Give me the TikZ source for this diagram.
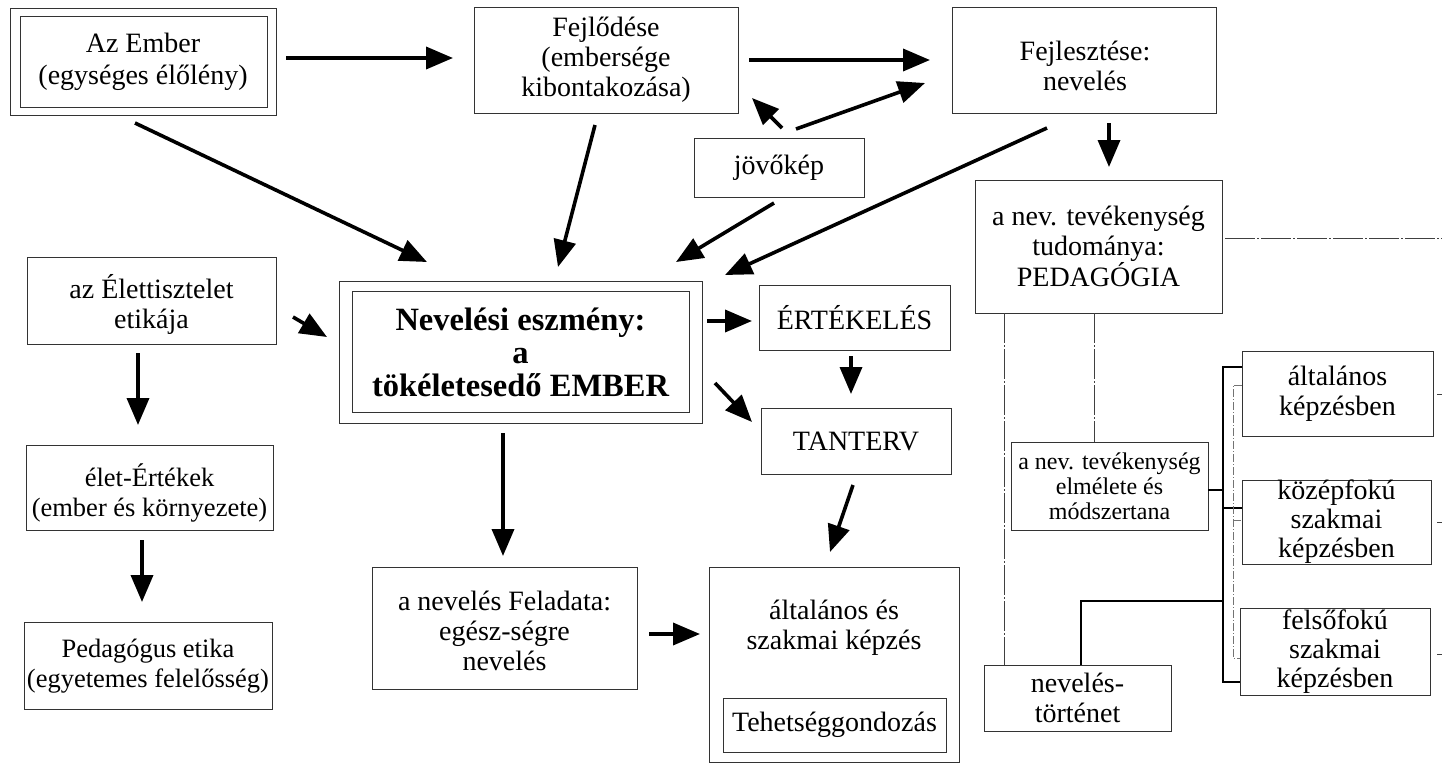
\documentclass[tikz,border=0pt]{standalone}
\usepackage{fontspec}
\setmainfont{Liberation Serif}
\usetikzlibrary{arrows.meta,calc}
\begin{document}
\begin{tikzpicture}[x=1pt,y=-1pt,
  box/.style={draw=black!80, line width=0.9pt, inner sep=0pt, outer sep=0pt,
    align=center, font=\fontsize{28}{30}\selectfont},
  txt/.style={inner sep=0pt, align=center, font=\fontsize{28}{30}\selectfont},
  arr/.style={-{Triangle[length=27pt,width=22pt]}, line width=3.6pt},
  frame/.style={draw=black!80, line width=0.9pt},
  rule/.style={draw=black!75, line width=0.8pt, dash pattern=on 30pt off 2pt on 2pt off 2pt},
  brace/.style={draw=black, line width=1.2pt},
  fine/.style={draw=black!55, line width=0.8pt, dash pattern=on 8pt off 2pt on 1pt off 2pt},
]
\useasboundingbox (0,0) rectangle (1442,763);
\fill[white] (0,0) rectangle (1442,763);

% top row
\node[box, minimum width=266pt, minimum height=107pt, font=\fontsize{28}{32}\selectfont] (azember) at (143,61.5) {Az Ember\\(egységes élőlény)};
\node[box, minimum width=264pt, minimum height=106pt] (fejlodes) at (606,60) {Fejlődése\\(embersége\\kibontakozása)};
\node[box, minimum width=264pt, minimum height=106pt] (fejlesztes) at (1084,60) {};
\node[txt] (fejlesztestext) at ($(fejlesztes.center)+(1,6)$) {Fejlesztése:\\nevelés};
\node[box, minimum width=170pt, minimum height=59pt] (jovokep) at (779,167.5) {jövőkép};
\node[box, minimum width=247pt, minimum height=133pt] (pedagogia) at (1098.5,246.5) {a nev. tevékenység\\tudománya:\\PEDAGÓGIA};

% central column
\node[box, minimum width=363pt, minimum height=142pt, font=\bfseries\fontsize{32.5}{33}\selectfont] (eszmeny) at (520.5,352) {Nevelési eszmény:\\a\\tökéletesedő EMBER};
\node[box, minimum width=191pt, minimum height=65pt] (ertekeles) at (854.5,317.5) {ÉRTÉKELÉS};
\node[box, minimum width=190pt, minimum height=66pt] (tanterv) at (856,441) {TANTERV};
\node[box, minimum width=265pt, minimum height=122pt] (feladat) at (504.5,628) {};
\node[txt] (feladattext) at ($(feladat.center)+(0,3)$) {a nevelés Feladata:\\egész-ségre\\nevelés};
\node[box, minimum width=250pt, minimum height=195pt] (kepzes) at (834,664.5) {};
\node[txt] (kepzestext) at (834,628) {általános és\\szakmai képzés};
\node[box, minimum width=223pt, minimum height=54pt] (tehetseg) at (834.5,725) {Tehetséggondozás};

% left column
\node[box, minimum width=249pt, minimum height=87pt] (etika) at (151.5,300.5) {};
\node[txt] (etikatext) at ($(etika.center)+(0,4)$) {az Élettisztelet\\etikája};
\node[box, minimum width=247pt, minimum height=85pt] (ertekek) at (149.5,487.5) {};
\node[txt, font=\fontsize{26.5}{30}\selectfont] (ertekektext) at ($(ertekek.center)+(0,5)$) {élet-Értékek\\(ember és környezete)};
\node[box, minimum width=248pt, minimum height=87pt] (pedetika) at (148,665.5) {};
\node[txt, font=\fontsize{26.5}{30}\selectfont] (pedetikatext) at ($(pedetika.center)+(0,1)$) {Pedagógus etika\\(egyetemes felelősség)};

% right column
\node[box, minimum width=197pt, minimum height=88pt, font=\fontsize{24}{25}\selectfont] (elmelet) at (1109.5,486) {a nev. tevékenység\\elmélete és\\módszertana};
\node[box, minimum width=187pt, minimum height=66pt] (tortenet) at (1077.5,698) {nevelés-\\történet};
\node[box, minimum width=191pt, minimum height=85pt] (altalanos) at (1337.5,393.5) {általános\\képzésben};
\node[box, minimum width=189pt, minimum height=84pt, font=\fontsize{28}{29}\selectfont] (kozep) at (1336.5,522) {középfokú\\szakmai\\képzésben};
\node[box, minimum width=190pt, minimum height=87pt, font=\fontsize{28}{29}\selectfont] (felso) at (1335,651.5) {felsőfokú\\szakmai\\képzésben};

% double frames
\draw[frame] ([shift={(10,8)}]azember.north west) rectangle ([shift={(-9,-8)}]azember.south east);
\draw[frame] ([shift={(13,10)}]eszmeny.north west) rectangle ([shift={(-13,-11)}]eszmeny.south east);

% arrows
\draw[arr] ($(azember.east)+(10,-3.5)$) -- ($(fejlodes.west)+(-21,-2)$);
\draw[arr] ($(fejlodes.east)+(11,0)$) -- ($(fejlesztes.west)+(-22,0)$);
\draw[arr] ($(jovokep.north)+(3,-10)$) -- ($(fejlodes.south east)+(14,-15)$);
\draw[arr] ($(jovokep.north)+(17,-9)$) -- ($(fejlesztes.west)+(-27,23)$);
\draw[arr] ($(azember.south)+(-8,8)$) -- ($(eszmeny.north west)+(88,-19)$);
\draw[arr] ($(fejlodes.south)+(-11,12)$) -- ($(eszmeny.north)+(37.5,-14)$);
\draw[arr] ($(jovokep.south)+(-5,6)$) -- ($(eszmeny.north east)+(-26,-19)$);
\draw[arr] ($(fejlesztes.south)+(-37,15)$) -- ($(eszmeny.north east)+(23,-6)$);
\draw[arr] ($(fejlesztes.south)+(25,10)$) -- ($(pedagogia.north)+(10.5,-13)$);
\draw[arr] ($(etika.east)+(17,16.5)$) -- ($(eszmeny.west)+(-12,-15)$);
\draw[arr] ($(eszmeny.east)+(5,-31)$) -- ($(ertekeles.west)+(-7,3.5)$);
\draw[arr] ($(ertekeles.south)+(-3.5,6)$) -- ($(tanterv.north)+(-5,-14)$);
\draw[arr] ($(eszmeny.east)+(13,31)$) -- ($(tanterv.west)+(-9,-19)$);
\draw[arr] ($(eszmeny.south)+(-17.5,10)$) -- ($(feladat.north)+(-1.5,-11)$);
\draw[arr] ($(tanterv.south)+(-3,11)$) -- ($(kepzes.north)+(-4,-15)$);
\draw[arr] ($(feladat.east)+(12,6)$) -- ($(kepzes.west)+(-9,-30.5)$);
\draw[arr] ($(etika.south)+(-13.5,9)$) -- ($(ertekek.north)+(-11.5,-20)$);
\draw[arr] ($(ertekek.south)+(-7.5,10)$) -- ($(pedetika.north)+(-6,-20)$);

% links below PEDAGÓGIA
\coordinate (edgeR) at (1442,238);
\draw[rule] ($(pedagogia.east)+(3,-8.5)$) -- (edgeR);
\draw[rule] ($(pedagogia.south west)+(29,0)$) -- ($(tortenet.north west)+(20,0)$);
\draw[rule] ($(pedagogia.south)+(-4.5,0)$) -- ($(elmelet.north)+(-15.5,0)$);

% bracket to the three training levels
\draw[brace] ($(altalanos.west)+(0,-26.5)$) -| ($(felso.west)+(-17,30.5)$) -- ($(felso.west)+(0,30.5)$);
\draw[brace] ($(elmelet.east)+(0,4)$) -- ++(15,0);
\draw[brace] ($(kozep.west)+(-19,-14)$) -- ($(kozep.west)+(0,-14)$);
\draw[brace] ($(tortenet.north)+(3.5,0)$) |- ($(kozep.west)+(-19,79)$);
\draw[fine] ($(altalanos.west)+(0,-8.5)$) -| ($(felso.west)+(-7,6.5)$) -- ($(felso.west)+(0,6.5)$);
\draw[fine] ($(kozep.west)+(-9,-2)$) -- ($(kozep.west)+(0,-2)$);

% short stubs on the right edge
\draw[rule] ($(altalanos.east)+(4,0.5)$) -- ++(8,0);
\draw[rule] ($(kozep.east)+(6,0)$) -- ++(8,0);
\draw[rule] ($(felso.east)+(7,2.5)$) -- ++(8,0);
\end{tikzpicture}
\end{document}
